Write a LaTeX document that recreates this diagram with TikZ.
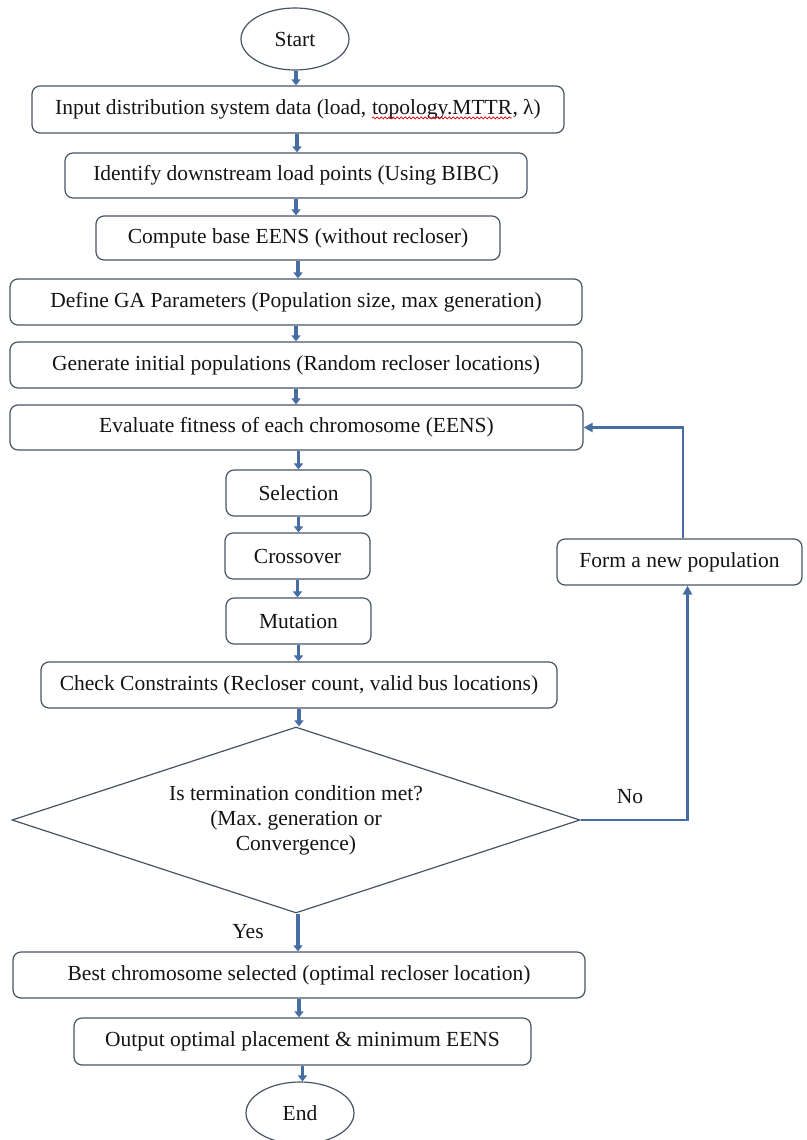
\documentclass[tikz,border=0pt]{standalone}
\usepackage{fontspec}
\setmainfont{Liberation Serif}
\frenchspacing
\usetikzlibrary{shapes.geometric,arrows.meta,decorations.pathmorphing}
\definecolor{boxline}{RGB}{72,84,100}
\definecolor{arrowblue}{RGB}{70,110,165}
\definecolor{txt}{RGB}{20,20,20}
\newcommand\wavyword[1]{\tikz[baseline=(w.base),sharp corners]{\node[shape=rectangle,inner sep=0pt,outer sep=0pt,minimum width=0pt,minimum height=0pt,draw=none,fill=none](w){#1};\draw[red!85!black,line width=0.7pt,sharp corners,decorate,decoration={snake,amplitude=1pt,segment length=4pt}]([yshift=-3.2pt]w.base west)--([yshift=-3.2pt]w.base east);}}
\tikzset{
  fbox/.style={draw=boxline,line width=1.2pt,rounded corners=8pt,fill=white,text=txt,
    font=\fontsize{21.5}{25}\selectfont,inner sep=0pt,align=center},
  term/.style={ellipse,draw=boxline,line width=1.2pt,fill=white,text=txt,
    font=\fontsize{21.5}{25}\selectfont,inner sep=0pt,minimum width=108pt,minimum height=62pt},
  decide/.style={diamond,draw=boxline,line width=1.2pt,fill=white,text=txt,aspect=3.05,
    font=\fontsize{21.5}{25}\selectfont,inner sep=0pt,align=center,minimum width=568pt,minimum height=186pt},
  flow/.style={draw=arrowblue,line width=3.4pt,-{Triangle[length=6pt,width=9pt]}},
  fb/.style={draw=arrowblue,line width=2.2pt,-{Triangle[length=9pt,width=9pt]}},
  lbl/.style={text=txt,font=\fontsize{21.5}{25}\selectfont,inner sep=0pt}
}
\begin{document}
\begin{tikzpicture}[x=1pt,y=-1pt]
\useasboundingbox[fill=white] (0,0) rectangle (806,1140);
\node[term] (start) at (295,39) {Start};
\node[fbox,minimum width=532pt,minimum height=47pt] (b1) at (298,109.5) {Input distribution system data (load, \wavyword{topology.MTTR}, λ)};
\node[fbox,minimum width=462pt,minimum height=45pt] (b2) at (296,175.5) {Identify downstream load points (Using BIBC)};
\node[fbox,minimum width=404pt,minimum height=44pt] (b3) at (298,238) {Compute base EENS (without recloser)};
\node[fbox,minimum width=572pt,minimum height=46pt] (b4) at (296,302) {Define GA Parameters (Population size, max generation)};
\node[fbox,minimum width=572pt,minimum height=46pt] (b5) at (296,365) {Generate initial populations (Random recloser locations)};
\node[fbox,minimum width=573pt,minimum height=45pt] (b6) at (296.5,427.5) {Evaluate fitness of each chromosome (EENS)};
\node[fbox,minimum width=145pt,minimum height=46pt] (sel) at (298.5,493) {Selection};
\node[fbox,minimum width=145pt,minimum height=46pt] (cro) at (297.5,556) {Crossover};
\node[fbox,minimum width=145pt,minimum height=46pt] (mut) at (298.5,621) {Mutation};
\node[fbox,minimum width=516pt,minimum height=46pt] (chk) at (299,685) {Check Constraints (Recloser count, valid bus locations)};
\node[decide] (dia) at (296,820) {Is termination condition met?\\(Max. generation or\\Convergence)};
\node[fbox,minimum width=572pt,minimum height=46pt] (best) at (299,975) {Best chromosome selected (optimal recloser location)};
\node[fbox,minimum width=457pt,minimum height=47pt] (out) at (302.5,1041.5) {Output optimal placement \& minimum EENS};
\node[term] (end) at (300,1113) {End};
\node[fbox,minimum width=245pt,minimum height=46pt] (form) at (679.5,562) {Form a new population};
\node[lbl] (yes) at (248,932) {Yes};
\node[lbl] (no) at (630,797) {No};
% main flow
\draw[flow] ([xshift=1pt]start.south) -- ([xshift=1pt]start.south |- b1.north);
\draw[flow] ([xshift=-1pt]b1.south) -- ([xshift=-1pt]b1.south |- b2.north);
\draw[flow] (b2.south) -- (b2.south |- b3.north);
\draw[flow] (b3.south) -- (b3.south |- b4.north);
\draw[flow] (b4.south) -- (b4.south |- b5.north);
\draw[flow] (b5.south) -- (b5.south |- b6.north);
\draw[flow] ([xshift=2pt]b6.south) -- ([xshift=2pt]b6.south |- sel.north);
\draw[flow] (sel.south) -- (sel.south |- cro.north);
\draw[flow] (cro.south) -- (cro.south |- mut.north);
\draw[flow] (mut.south) -- (mut.south |- chk.north);
\draw[flow] (chk.south) -- (chk.south |- dia.north);
\draw[flow] ([xshift=2pt]dia.south) -- ([xshift=2pt]dia.south |- best.north);
\draw[flow] (best.south) -- (best.south |- out.north);
\draw[flow] (out.south) -- (out.south |- end.north);
% feedback loop
\draw[fb] (dia.east) -| ([xshift=8pt]form.south);
\draw[fb] ([xshift=3.5pt]form.north) |- (b6.east);
\end{tikzpicture}
\end{document}
